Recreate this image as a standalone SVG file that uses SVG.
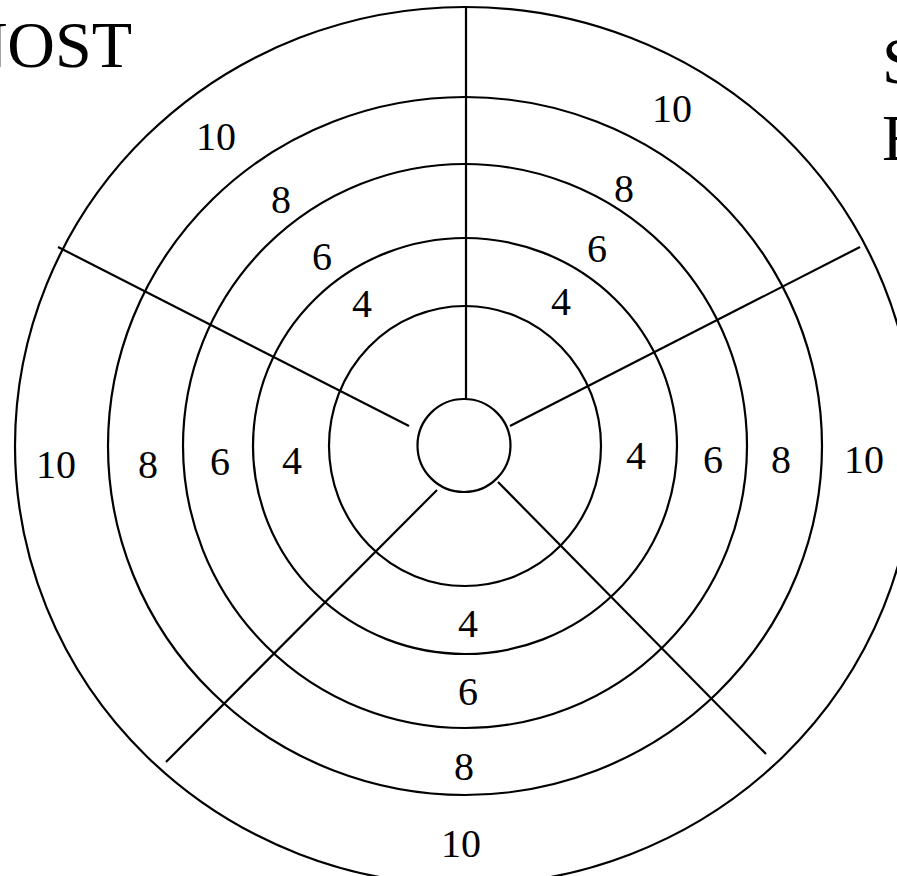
<svg xmlns="http://www.w3.org/2000/svg" width="897" height="876" viewBox="0 0 897 876">
<style>
.ring{fill:none;stroke:#000;stroke-width:2.2}
.spoke{stroke:#000;stroke-width:2.2;fill:none}
.lbl{font-family:"Liberation Serif","Times New Roman",serif;font-size:40px;fill:#000;text-anchor:middle}
.title{font-family:"Liberation Serif","Times New Roman",serif;font-size:66px;fill:#000}
</style>
<rect width="897" height="876" fill="#fff"/>
<g id="rings">
<ellipse id="ring10" class="ring" cx="465" cy="446" rx="450" ry="439"/>
<ellipse id="ring8" class="ring" cx="465" cy="446" rx="357" ry="349"/>
<ellipse id="ring6" class="ring" cx="465" cy="446" rx="282" ry="282"/>
<ellipse id="ring4" class="ring" cx="465" cy="446" rx="212" ry="208"/>
<ellipse id="ring2" class="ring" cx="465" cy="446" rx="136" ry="140"/>
</g>
<g id="center"><circle class="ring" cx="464" cy="445.5" r="46.5"/></g>
<g id="connectors">
<line class="spoke" x1="466" y1="7" x2="466" y2="399"/>
<line class="spoke" x1="409" y1="426" x2="58" y2="247"/>
<line class="spoke" x1="510" y1="426" x2="860" y2="247"/>
<line class="spoke" x1="437" y1="490" x2="166" y2="762"/>
<line class="spoke" x1="498" y1="482" x2="766" y2="754"/>
</g>
<g id="labels">
<text class="lbl" x="216" y="150">10</text>
<text class="lbl" x="281" y="213">8</text>
<text class="lbl" x="322" y="270">6</text>
<text class="lbl" x="362" y="317">4</text>
<text class="lbl" x="672" y="122">10</text>
<text class="lbl" x="624" y="202">8</text>
<text class="lbl" x="597" y="262">6</text>
<text class="lbl" x="561" y="315">4</text>
<text class="lbl" x="56" y="478">10</text>
<text class="lbl" x="148" y="478">8</text>
<text class="lbl" x="220" y="475">6</text>
<text class="lbl" x="292" y="474">4</text>
<text class="lbl" x="636" y="469">4</text>
<text class="lbl" x="713" y="473">6</text>
<text class="lbl" x="781" y="473">8</text>
<text class="lbl" x="864" y="473">10</text>
<text class="lbl" x="468" y="637">4</text>
<text class="lbl" x="468" y="705">6</text>
<text class="lbl" x="464" y="780">8</text>
<text class="lbl" x="461" y="857">10</text>
</g>
<g id="titles">
<text class="title" x="132" y="67" text-anchor="end">NOST</text>
<text class="title" x="882" y="83">S</text>
<text class="title" x="882" y="160">E</text>
</g>
</svg>
